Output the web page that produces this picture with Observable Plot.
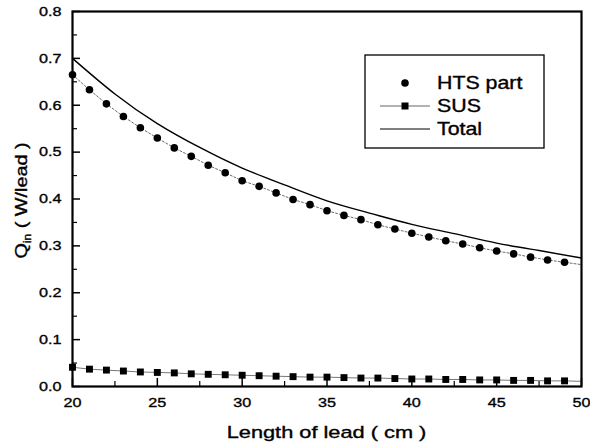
<!DOCTYPE html>
<html>
<head>
<meta charset="utf-8">
<script src="https://cdn.jsdelivr.net/npm/d3@7"></script>
<script src="https://cdn.jsdelivr.net/npm/@observablehq/plot@0.6"></script>
<style>
  html, body { margin: 0; padding: 0; background: #fff; }
  #chart svg { display: block; }
  #chart svg text { stroke: #000; stroke-width: 0.35px; paint-order: stroke; }
</style>
</head>
<body>
<div id="chart"></div>
<script>
// Heat input per current lead versus lead length
const lengths = [20, 21, 22, 23, 24, 25, 26, 27, 28, 29, 30, 31, 32, 33, 34,
                 35, 36, 37, 38, 39, 40, 41, 42, 43, 44, 45, 46, 47, 48, 49, 50];

// HTS part (circles at 20..49; the dotted guide runs to 50)
const htsValues = [0.665, 0.633, 0.603, 0.576, 0.552, 0.530, 0.509, 0.491, 0.472, 0.456,
                   0.439, 0.427, 0.413, 0.399, 0.388, 0.375, 0.365, 0.356, 0.345, 0.336,
                   0.327, 0.319, 0.311, 0.304, 0.296, 0.289, 0.283, 0.276, 0.270, 0.265, 0.260];

// SUS part (squares at 20..49)
const susValues = [0.041, 0.037, 0.035, 0.033, 0.031, 0.030, 0.029, 0.027, 0.026, 0.025,
                   0.024, 0.023, 0.022, 0.021, 0.020, 0.020, 0.019, 0.018, 0.018, 0.017,
                   0.016, 0.016, 0.015, 0.015, 0.014, 0.014, 0.013, 0.013, 0.012, 0.012, 0.011];

// Total (smooth curve)
const totalLengths = [20, 22.5, 25, 27.5, 30, 32.5, 35, 37.5, 40, 42.5, 45, 47.5, 50];
const totalValues  = [0.700, 0.624, 0.561, 0.510, 0.466, 0.430, 0.396, 0.370, 0.346, 0.326, 0.306, 0.290, 0.274];

const xMajor = [20, 25, 30, 35, 40, 45, 50];
const xMinor = [22.5, 27.5, 32.5, 37.5, 42.5, 47.5];
const yMajor = [0, 0.1, 0.2, 0.3, 0.4, 0.5, 0.6, 0.7, 0.8];
const yMinor = [0.05, 0.15, 0.25, 0.35, 0.45, 0.55, 0.65, 0.75];

const hts = lengths.map((x, i) => ({x, y: htsValues[i]}));
const sus = lengths.map((x, i) => ({x, y: susValues[i]}));
const total = totalLengths.map((x, i) => ({x, y: totalValues[i]}));
const markerOnly = d => d.x < 50;

const W = 590, H = 447;
const M = {top: 11, right: 9, bottom: 61, left: 72};
const plotW = W - M.left - M.right;
const plotH = H - M.top - M.bottom;
const FONT = "'Liberation Sans', Arial, Helvetica, sans-serif";

const chart = Plot.plot({
  width: W,
  height: H,
  marginTop: M.top,
  marginRight: M.right,
  marginBottom: M.bottom,
  marginLeft: M.left,
  style: {fontFamily: FONT, fontSize: "13px", color: "#000", background: "#fff"},
  x: {domain: [20, 50]},
  y: {domain: [0, 0.8]},
  marks: [
    // tick labels only; tick lines are drawn inward below
    Plot.axisX(xMajor, {tickSize: 0, tickPadding: 11, fontSize: 13.5, label: null, tickFormat: d3.format("d")}),
    Plot.axisY(yMajor, {tickSize: 0, tickPadding: 11, fontSize: 13.5, label: null, tickFormat: d3.format(".1f")}),
    Plot.tickX(xMajor, {x: d => d, insetTop: plotH - 8, stroke: "#000", strokeWidth: 1.5}),
    Plot.tickX(xMinor, {x: d => d, insetTop: plotH - 5, stroke: "#000", strokeWidth: 1.2}),
    Plot.tickY(yMajor, {y: d => d, insetRight: plotW - 8, stroke: "#000", strokeWidth: 1.5}),
    Plot.tickY(yMinor, {y: d => d, insetRight: plotW - 5, stroke: "#000", strokeWidth: 1.2}),

    // Total
    Plot.line(total, {x: "x", y: "y", curve: "natural", stroke: "#000", strokeWidth: 1.4}),

    // HTS part
    Plot.line(hts, {x: "x", y: "y", stroke: "#444", strokeWidth: 0.8, strokeDasharray: "2,2"}),
    Plot.dot(hts, {filter: markerOnly, x: "x", y: "y", r: 3.8, fill: "#000", stroke: "none"}),

    // SUS
    Plot.line(sus, {x: "x", y: "y", stroke: "#555", strokeWidth: 0.8}),
    Plot.dot(sus, {filter: markerOnly, x: "x", y: "y", symbol: "square", r: 3.9, fill: "#000", stroke: "none"}),

    Plot.frame({stroke: "#000", strokeWidth: 2.2})
  ]
});

document.getElementById("chart").append(chart);

const svg = d3.select(chart);

// The lettering in this figure is set wide: widen tick labels about their anchor
svg.selectAll('g[aria-label="x-axis tick label"] text, g[aria-label="y-axis tick label"] text')
  .attr("transform", function () {
    return (this.getAttribute("transform") || "") + " scale(1.2,1)";
  });

// Axis titles
svg.append("text")
  .attr("transform", `translate(${M.left + plotW / 2},438) scale(1.32,1)`)
  .attr("text-anchor", "middle")
  .style("font-family", FONT)
  .style("font-size", "16.5px")
  .attr("fill", "#000")
  .text("Length of lead ( cm )");

const yTitle = svg.append("text")
  .attr("transform", `translate(27,${M.top + plotH / 2 + 2}) rotate(-90) scale(1.2,1)`)
  .attr("text-anchor", "middle")
  .style("font-family", FONT)
  .style("font-size", "16.5px")
  .attr("fill", "#000");
yTitle.append("tspan").text("Q");
yTitle.append("tspan").style("font-size", "10px").attr("dy", 4).text("in");
yTitle.append("tspan").attr("dy", -4).text(" ( W/lead )");

// Legend
const legend = svg.append("g");
legend.append("rect")
  .attr("x", 365).attr("y", 55).attr("width", 179).attr("height", 93)
  .attr("fill", "#fff").attr("stroke", "#000").attr("stroke-width", 1.3);

const entries = [
  {label: "HTS part", y: 83, line: false, symbol: "circle"},
  {label: "SUS", y: 106, line: true, symbol: "square", lineColor: "#555"},
  {label: "Total", y: 129, line: true, symbol: null, lineColor: "#000"}
];
for (const e of entries) {
  if (e.line) {
    legend.append("line")
      .attr("x1", 380).attr("x2", 430).attr("y1", e.y).attr("y2", e.y)
      .attr("stroke", e.lineColor).attr("stroke-width", e.symbol ? 0.9 : 1.2);
  }
  if (e.symbol === "circle") {
    legend.append("circle").attr("cx", 405).attr("cy", e.y).attr("r", 3.8).attr("fill", "#000");
  } else if (e.symbol === "square") {
    legend.append("rect").attr("x", 401.5).attr("y", e.y - 3.5).attr("width", 7).attr("height", 7).attr("fill", "#000");
  }
  legend.append("text")
    .attr("transform", `translate(437,${e.y}) scale(1.22,1)`)
    .attr("dy", "0.36em")
    .attr("text-anchor", "start")
    .style("font-family", FONT)
    .style("font-size", "17.5px")
    .attr("fill", "#000")
    .text(e.label);
}
</script>
</body>
</html>
